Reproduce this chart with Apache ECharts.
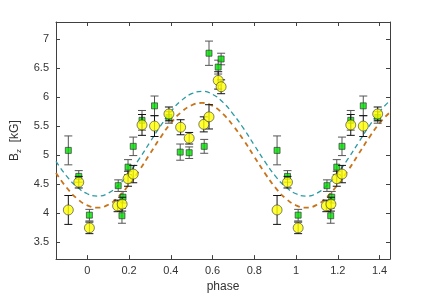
<!DOCTYPE html>
<html><head><meta charset="utf-8">
<script src="https://cdn.jsdelivr.net/npm/echarts@6/dist/echarts.min.js"></script>
<style>html,body{margin:0;padding:0;background:#fff}#c{width:432px;height:298px}</style>
</head><body><div id="c"></div>
<script>
// Green squares (phase, Bz, error)
const greenPhase = [-0.091,-0.041,0.010,0.148,0.166,0.171,0.195,0.220,0.262,0.322,0.391,0.445,0.488,0.560,0.583,0.627,0.641,
                    0.909,0.959,1.010,1.148,1.166,1.171,1.195,1.220,1.262,1.322,1.391];
const greenBz    = [5.08,4.63,3.96,4.47,3.95,4.27,4.79,5.15,5.60,5.85,5.65,5.05,5.04,5.15,6.76,6.52,6.66,
                    5.08,4.63,3.96,4.47,3.95,4.27,4.79,5.15,5.60,5.85,5.65];
const greenErr   = [0.25,0.10,0.10,0.10,0.13,0.10,0.13,0.16,0.17,0.17,0.10,0.14,0.10,0.12,0.21,0.12,0.10,
                    0.25,0.10,0.10,0.10,0.13,0.10,0.13,0.16,0.17,0.17,0.10];
// Yellow circles
const yellowPhase = [-0.091,-0.041,0.010,0.145,0.167,0.195,0.220,0.262,0.322,0.391,0.447,0.488,0.558,0.583,0.627,0.641,
                     0.909,0.959,1.010,1.145,1.167,1.195,1.220,1.262,1.322,1.391];
const yellowBz    = [4.05,4.53,3.74,4.12,4.15,4.59,4.67,5.52,5.50,5.71,5.48,5.29,5.53,5.66,6.29,6.18,
                     4.05,4.53,3.74,4.12,4.15,4.59,4.67,5.52,5.50,5.71];
const yellowErr   = [0.25,0.10,0.10,0.10,0.12,0.13,0.15,0.18,0.18,0.12,0.13,0.10,0.13,0.21,0.15,0.12,
                     0.25,0.10,0.10,0.10,0.12,0.13,0.15,0.18,0.18,0.12];
// Model curves (read at sampled phases)
const curvePhase = [-0.15,-0.10,-0.05,0.00,0.05,0.10,0.15,0.20,0.25,0.30,0.35,0.40,0.45,0.50,0.55,0.60,0.65,0.70,0.75,0.80,0.85,0.90,0.95,1.00,1.05,1.10,1.15,1.20,1.25,1.30,1.35,1.40,1.45];
const tealCurve  = [4.89,4.64,4.45,4.33,4.29,4.34,4.48,4.69,4.94,5.22,5.50,5.75,5.94,6.06,6.10,6.05,5.91,5.70,5.45,5.17,4.89,4.64,4.45,4.33,4.29,4.34,4.48,4.69,4.94,5.22,5.50,5.75,5.94];
const orangeCurve= [4.69,4.44,4.25,4.13,4.09,4.14,4.28,4.49,4.74,5.02,5.30,5.55,5.74,5.86,5.90,5.85,5.71,5.50,5.25,4.97,4.69,4.44,4.25,4.13,4.09,4.14,4.28,4.49,4.74,5.02,5.30,5.55,5.74];
// Tick labels
const xTicks = [0,0.2,0.4,0.6,0.8,1,1.2,1.4];
const yTicks = [3.5,4,4.5,5,5.5,6,6.5,7];

const font = '"Liberation Sans", Arial, Helvetica, sans-serif';
const axisCol = '#404040';
const zip2 = (a,b) => a.map((v,i)=>[v,b[i]]);
const errData = (p,v,e) => p.map((x,i)=>[x, v[i]-e[i], v[i]+e[i]]);

function errRender(color){
  return function(params, api){
    const x = api.value(0), lo = api.value(1), hi = api.value(2);
    const a = api.coord([x, lo]), b = api.coord([x, hi]);
    const w = 4;
    const st = {stroke: color, lineWidth: 1};
    return {type:'group', children:[
      {type:'line', shape:{x1:a[0], y1:a[1], x2:b[0], y2:b[1]}, style:st},
      {type:'line', shape:{x1:a[0]-w, y1:a[1], x2:a[0]+w, y2:a[1]}, style:st},
      {type:'line', shape:{x1:b[0]-w, y1:b[1], x2:b[0]+w, y2:b[1]}, style:st}
    ]};
  };
}

const baseX = {type:'value', min:-0.15, max:1.45, splitLine:{show:false},
  axisLine:{show:true, onZero:false, lineStyle:{color:axisCol, width:1}},
  axisTick:{show:true, inside:true, length:4, customValues:xTicks, lineStyle:{color:axisCol}},
  axisLabel:{show:true, customValues:xTicks, color:'#333', fontFamily:font, fontSize:11, margin:6}};
const baseY = {type:'value', min:3.2, max:7.3, splitLine:{show:false},
  axisLine:{show:true, onZero:false, lineStyle:{color:axisCol, width:1}},
  axisTick:{show:true, inside:true, length:4, customValues:yTicks, lineStyle:{color:axisCol}},
  axisLabel:{show:true, customValues:yTicks, color:'#333', fontFamily:font, fontSize:11, margin:7}};

const chart = echarts.init(document.getElementById('c'), null, {renderer:'canvas'});
chart.setOption({
  animation:false,
  backgroundColor:'#fff',
  grid:{left:56, right:42, top:22, bottom:33, containLabel:false},
  xAxis:[
    Object.assign({}, baseX, {position:'bottom', name:'phase', nameLocation:'middle', nameGap:20,
      nameTextStyle:{color:'#333', fontFamily:font, fontSize:12}}),
    Object.assign({}, baseX, {position:'top', axisLabel:{show:false}})
  ],
  yAxis:[
    Object.assign({}, baseY, {position:'left', name:'B{sub|z}  [kG]', nameLocation:'middle', nameGap:24,
      nameTextStyle:{color:'#333', fontFamily:font, fontSize:12,
        rich:{sub:{fontSize:8, fontFamily:font, color:'#333', verticalAlign:'bottom', padding:[8,0,0,0]}}}}),
    Object.assign({}, baseY, {position:'right', axisLabel:{show:false}})
  ],
  series:[
    {type:'line', data:zip2(curvePhase, tealCurve), smooth:true, showSymbol:false, silent:true,
      lineStyle:{color:'#2a9aa3', width:1.3, type:[5,3.5]}, z:1},
    {type:'line', data:zip2(curvePhase, orangeCurve), smooth:true, showSymbol:false, silent:true,
      lineStyle:{color:'#c7741a', width:1.8, type:[5,4]}, z:1},
    {type:'custom', data:errData(greenPhase, greenBz, greenErr), encode:{x:0, y:[1,2]},
      renderItem:errRender('#555'), z:2, silent:true},
    {type:'scatter', data:zip2(greenPhase, greenBz), symbol:'rect', symbolSize:6,
      itemStyle:{color:'#00e000', borderColor:'#2a2a2a', borderWidth:0.8}, z:3},
    {type:'custom', data:errData(yellowPhase, yellowBz, yellowErr), encode:{x:0, y:[1,2]},
      renderItem:errRender('#111'), z:4, silent:true},
    {type:'scatter', data:zip2(yellowPhase, yellowBz), symbol:'circle', symbolSize:10,
      itemStyle:{color:'#ffff00', borderColor:'#3a3a3a', borderWidth:0.8}, z:5}
  ]
});
</script></body></html>
